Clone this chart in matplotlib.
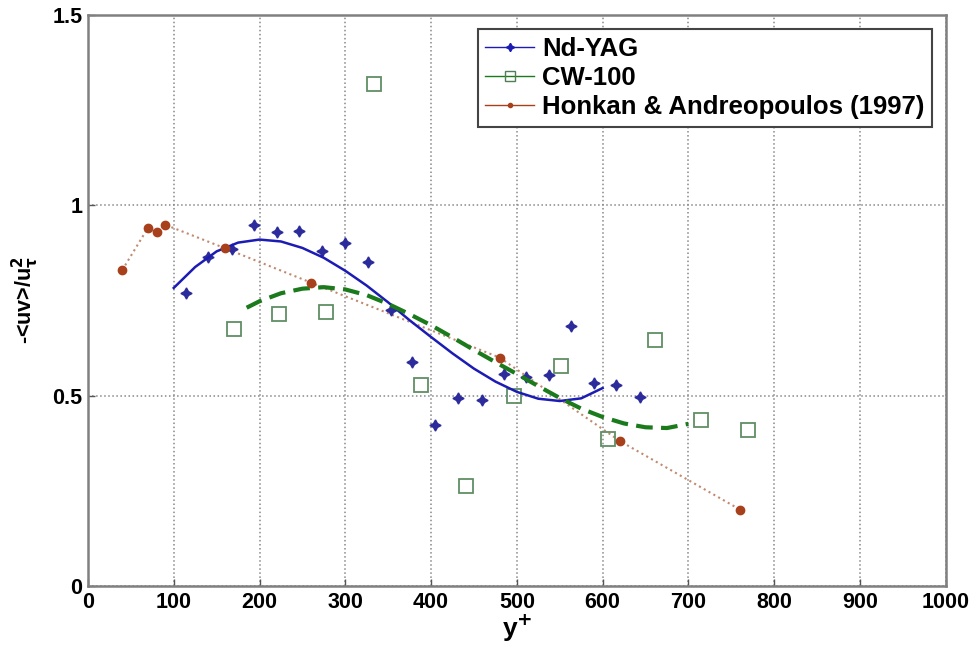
import numpy as np
import matplotlib
matplotlib.use('Agg')
import matplotlib.pyplot as plt

plt.rcParams['font.family'] = ['Liberation Sans', 'DejaVu Sans']
plt.rcParams['font.weight'] = 'bold'
plt.rcParams['mathtext.default'] = 'bf'

# Nd-YAG measurements
yag_x = [114, 140, 168, 193, 220, 246, 273, 300, 326, 353, 378, 404,
         431, 459, 485, 511, 537, 563, 590, 616, 644]
yag_y = [0.770, 0.863, 0.885, 0.947, 0.929, 0.932, 0.879, 0.902, 0.850,
         0.725, 0.588, 0.423, 0.493, 0.488, 0.558, 0.549, 0.554, 0.683,
         0.533, 0.528, 0.497]

# Nd-YAG trend curve
yag_fit_x = [100, 125, 150, 175, 200, 225, 250, 275, 300, 325, 350, 375,
             400, 425, 450, 475, 500, 525, 550, 575, 600]
yag_fit_y = [0.783, 0.838, 0.879, 0.902, 0.910, 0.905, 0.888, 0.862, 0.828,
             0.789, 0.745, 0.698, 0.654, 0.611, 0.571, 0.537, 0.510, 0.492,
             0.486, 0.493, 0.520]

# CW-100 measurements
cw_x = [170, 223, 278, 334, 388, 441, 497, 551, 606, 661, 715, 770]
cw_y = [0.675, 0.714, 0.719, 1.319, 0.528, 0.262, 0.498, 0.577, 0.387,
        0.645, 0.435, 0.410]

# CW-100 trend curve
cw_fit_x = [185, 200, 225, 250, 275, 300, 325, 350, 375, 400, 425, 450,
            475, 500, 525, 550, 575, 600, 625, 650, 675, 700]
cw_fit_y = [0.731, 0.748, 0.769, 0.781, 0.785, 0.779, 0.764, 0.741, 0.714,
            0.685, 0.653, 0.620, 0.588, 0.557, 0.525, 0.494, 0.466, 0.444,
            0.427, 0.417, 0.415, 0.426]

# Honkan & Andreopoulos (1997)
ha_x = [40, 70, 80, 90, 160, 260, 480, 620, 760]
ha_y = [0.830, 0.941, 0.929, 0.949, 0.887, 0.797, 0.600, 0.381, 0.201]

fig = plt.figure(figsize=(9.72, 6.49), dpi=100)
ax = fig.add_axes([0.0905, 0.097, 0.8825, 0.88])

star = (4, 1, 0)
ax.plot(yag_x, yag_y, linestyle='none', marker=star, ms=8,
        color='#2b2b9c', zorder=3)
ax.plot(yag_fit_x, yag_fit_y, '-', color='#1c1cb4', lw=1.8, zorder=4)

ax.plot(cw_x, cw_y, linestyle='none', marker='s', ms=10, mfc='none',
        mec='#5f8f64', mew=1.3, zorder=3)
ax.plot(cw_fit_x, cw_fit_y, '--', color='#1b7a1b', lw=3,
        dashes=(4, 2), zorder=4)

ax.plot(ha_x, ha_y, ':', color='#c08a70', lw=1.5, zorder=2)
ax.plot(ha_x, ha_y, linestyle='none', marker='o', ms=6,
        color='#a8401c', zorder=5)

# legend handles
h1, = ax.plot([], [], '-', color='#1c1cb4', lw=1, marker=star, ms=6)
h2, = ax.plot([], [], '-', color='#1b7a1b', lw=1, marker='s', ms=7,
              mfc='none', mec='#4f7f54')
h3, = ax.plot([], [], '-', color='#a8401c', lw=1, marker='o', ms=3)
leg = ax.legend([h1, h2, h3],
                ['Nd-YAG', 'CW-100', 'Honkan & Andreopoulos (1997)'],
                loc='upper right', bbox_to_anchor=(0.993, 0.989),
                fontsize=18.5, frameon=True, fancybox=False,
                handlelength=1.9, handletextpad=0.3, borderpad=0.3,
                labelspacing=0.2, borderaxespad=0.3)
leg.get_frame().set_edgecolor('#444444')
leg.get_frame().set_linewidth(1.5)
leg.get_frame().set_alpha(1)

ax.set_xlim(0, 1000)
ax.set_ylim(0, 1.5)
ax.set_xticks(np.arange(0, 1001, 100))
ax.set_yticks([0, 0.5, 1, 1.5])
ax.set_yticklabels(['0', '0.5', '1', '1.5'])
ax.grid(True, linestyle=':', color='#888888', lw=1.1)
ax.tick_params(direction='in', length=5, width=1, labelsize=15.5,
               top=False, right=False, pad=4, color='#555555')
for lab in ax.get_xticklabels() + ax.get_yticklabels():
    lab.set_fontweight('bold')
for sp in ax.spines.values():
    sp.set_color('#808080')
    sp.set_linewidth(1.8)

ax.set_xlabel(r'y$^{+}$', fontsize=19, fontweight='bold', labelpad=0)
ax.set_ylabel(r'-<uv>/u$_{\tau}^{2}$', fontsize=15.5, fontweight='bold',
              labelpad=8)

fig.savefig('out.png', dpi=100, facecolor='white')
